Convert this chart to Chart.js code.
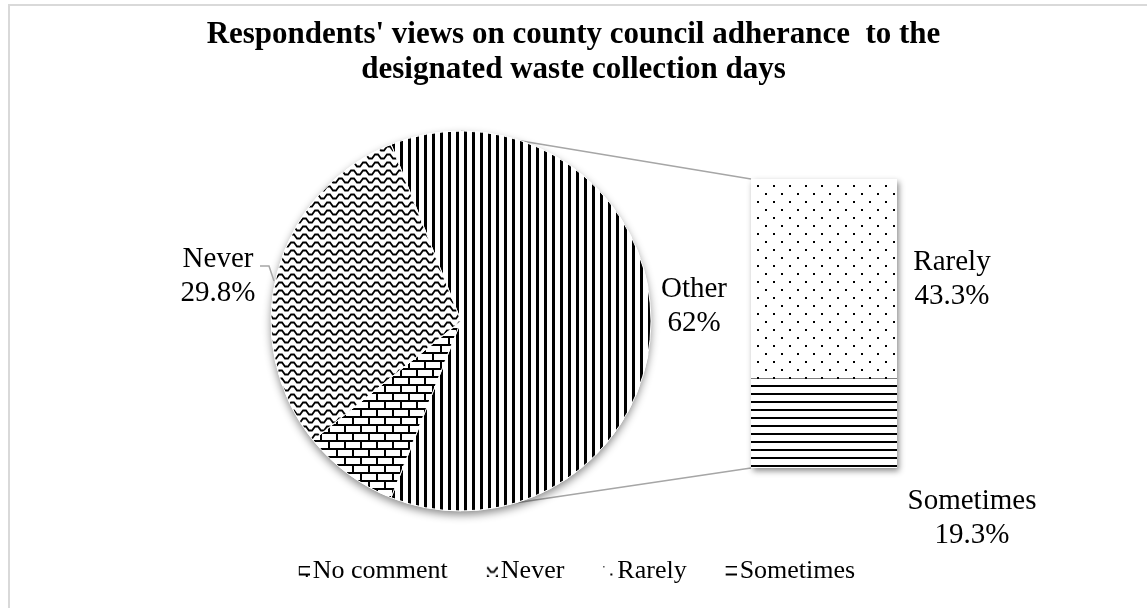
<!DOCTYPE html>
<html><head><meta charset="utf-8">
<script src="https://cdn.jsdelivr.net/npm/chart.js@4.4.1/dist/chart.umd.min.js"></script>
<style>
html,body{margin:0;padding:0;background:#fff;}
#wrap{position:relative;width:1147px;height:608px;overflow:hidden;background:#fff;}
#main{position:absolute;left:0;top:0;}
#bar{position:absolute;left:741px;top:169px;}
</style></head><body>
<div id="wrap"><canvas id="main" width="1147" height="608"></canvas><canvas id="bar" width="330" height="390"></canvas></div>
<script>
// ---- data ----
const titleLines = ["Respondents' views on county council adherance  to the", "designated waste collection days"];
const pieLabels = ["Other", "No comment", "Never"];
const pieValues = [62, 8.2, 29.8];
const pieValueText = ["62%", "", "29.8%"];
const barLabels = ["Sometimes", "Rarely"];
const barValues = [19.3, 43.3];
const barValueText = ["19.3%", "43.3%"];
const legendLabels = ["No comment", "Never", "Rarely", "Sometimes"];

// ---- patterns ----
function tile(w, h, draw) {
  const c = document.createElement('canvas'); c.width = w; c.height = h;
  const x = c.getContext('2d'); x.fillStyle = '#fff'; x.fillRect(0, 0, w, h);
  x.fillStyle = '#000'; x.strokeStyle = '#000'; draw(x); return c;
}
const tiles = {
  vertical: tile(8, 8, x => x.fillRect(0, 0, 3, 8)),
  horizontal: tile(8, 8, x => x.fillRect(0, 0, 8, 2)),
  dots: tile(16, 16, x => { x.fillRect(0, 0, 2, 2); x.fillRect(8, 8, 2, 2); }),
  brick: tile(16, 16, x => { x.fillRect(0, 0, 16, 2); x.fillRect(0, 8, 16, 2); x.fillRect(0, 0, 2, 8); x.fillRect(8, 8, 2, 8); }),
  wave: tile(12, 8, x => { x.lineWidth = 1.8; x.beginPath(); x.moveTo(-3, 6.5); x.lineTo(0, 6.5); x.lineTo(3, 2.5); x.lineTo(6, 2.5); x.lineTo(9, 6.5); x.lineTo(15, 6.5); x.stroke(); })
};
function pat(ctx, key) { return ctx.createPattern(tiles[key], 'repeat'); }
function swatch(key) {
  const c = document.createElement('canvas'); c.width = 28; c.height = 11;
  const x = c.getContext('2d'); x.fillStyle = x.createPattern(tiles[key], 'repeat'); x.fillRect(17, 0, 11, 11);
  return c;
}
const legendKeys = ['brick', 'wave', 'dots', 'horizontal'];

const serif = '"Liberation Serif", "Times New Roman", serif';
function drawLines(ctx, lines, cx, cy, size, lh) {
  ctx.save();
  ctx.font = size + 'px ' + serif; ctx.fillStyle = '#000';
  ctx.textAlign = 'center'; ctx.textBaseline = 'middle';
  lines.forEach((t, i) => ctx.fillText(t, cx, cy + (i - (lines.length - 1) / 2) * lh));
  ctx.restore();
}

// ---- bar (pie-of-bar secondary) ----
const barCanvas = document.getElementById('bar');
const bctx = barCanvas.getContext('2d');
const barTotal = barValues.reduce((a, b) => a + b, 0);
const barKeys = ['horizontal', 'dots'];
const barShadow = {
  id: 'barShadow',
  beforeDatasetsDraw(chart) {
    const a = chart.chartArea, c = chart.ctx;
    c.save(); c.shadowColor = 'rgba(0,0,0,0.45)'; c.shadowBlur = 6; c.shadowOffsetX = 2; c.shadowOffsetY = 3;
    c.fillStyle = '#fff'; c.fillRect(a.left, a.top, a.right - a.left, a.bottom - a.top); c.restore();
  },
  afterDatasetsDraw(chart) {
    const c = chart.ctx;
    const rare = chart.getDatasetMeta(1).data[0];
    const some = chart.getDatasetMeta(0).data[0];
    const right = rare.x + rare.width / 2;
    drawLines(c, [barLabels[1], barValueText[1]], right + 55, (rare.y + rare.base) / 2, 29, 34);
    drawLines(c, [barLabels[0], barValueText[0]], right + 75, some.base + 50, 29, 34);
  }
};
const barChart = new Chart(barCanvas, {
  type: 'bar',
  data: {
    labels: [''],
    datasets: barLabels.map((l, i) => ({
      label: l, data: [barValues[i]], backgroundColor: pat(bctx, barKeys[i]),
      borderWidth: 0, barPercentage: 1, categoryPercentage: 1
    }))
  },
  options: {
    responsive: false, animation: false, devicePixelRatio: 1,
    layout: { padding: { left: 10, top: 10, right: 174, bottom: 91 } },
    scales: {
      x: { display: false, stacked: true },
      y: { display: false, stacked: true, min: 0, max: barTotal }
    },
    plugins: { legend: { display: false }, title: { display: false }, tooltip: { enabled: false } }
  },
  plugins: [barShadow]
});

// ---- main pie ----
const mainCanvas = document.getElementById('main');
const mctx = mainCanvas.getContext('2d');
const pieTotal = pieValues.reduce((a, b) => a + b, 0);
const PIE = { cx: 461, cy: 321, r: 190 };
const BAR_OFF = { x: 741, y: 169 };

const frame = {
  id: 'frame',
  beforeDraw(chart) {
    const c = chart.ctx; c.save(); c.strokeStyle = '#d9d9d9'; c.lineWidth = 2;
    c.strokeRect(9, 5, 2000, 2000); c.restore();
  }
};
const placePie = {
  id: 'placePie',
  afterLayout(chart) {
    Object.assign(chart.chartArea, {
      left: PIE.cx - PIE.r, right: PIE.cx + PIE.r, top: PIE.cy - PIE.r, bottom: PIE.cy + PIE.r,
      width: 2 * PIE.r, height: 2 * PIE.r
    });
  }
};
const pieDecor = {
  id: 'pieDecor',
  beforeDatasetsDraw(chart) {
    const c = chart.ctx;
    const arc = chart.getDatasetMeta(0).data[0];
    const cx = arc.x, cy = arc.y, r = arc.outerRadius;
    const rare = barChart.getDatasetMeta(1).data[0];
    const some = barChart.getDatasetMeta(0).data[0];
    const bl = rare.x - rare.width / 2 + BAR_OFF.x;
    c.save(); c.strokeStyle = '#a6a6a6'; c.lineWidth = 1.5;
    c.beginPath(); c.moveTo(cx, cy - r); c.lineTo(bl, rare.y + BAR_OFF.y);
    c.moveTo(cx, cy + r); c.lineTo(bl, some.base + BAR_OFF.y); c.stroke(); c.restore();
    c.save(); c.shadowColor = 'rgba(0,0,0,0.45)'; c.shadowBlur = 8; c.shadowOffsetY = 4;
    c.fillStyle = '#fff'; c.beginPath(); c.arc(cx, cy, r, 0, Math.PI * 2); c.fill(); c.restore();
  },
  afterDatasetsDraw(chart) {
    const c = chart.ctx;
    const arc = chart.getDatasetMeta(0).data[0];
    const cx = arc.x, cy = arc.y;
    drawLines(c, [pieLabels[2], pieValueText[2]], cx - 243, cy - 45, 29, 34);
    c.save(); c.strokeStyle = '#a6a6a6'; c.lineWidth = 1.5;
    c.beginPath(); c.moveTo(cx - 201, cy - 55); c.lineTo(cx - 192, cy - 55); c.lineTo(cx - 187, cy - 40); c.stroke(); c.restore();
    drawLines(c, [pieLabels[0], pieValueText[0]], cx + 233, cy - 15, 29, 34);
  }
};

const mainChart = new Chart(mainCanvas, {
  type: 'pie',
  data: {
    labels: pieLabels,
    datasets: [{
      data: pieValues,
      backgroundColor: [pat(mctx, 'vertical'), pat(mctx, 'brick'), pat(mctx, 'wave')],
      borderColor: '#fff', borderWidth: 1, radius: PIE.r, clip: false
    }]
  },
  options: {
    responsive: false, animation: false, devicePixelRatio: 1,
    rotation: 90 - pieValues[0] / pieTotal * 180,
    layout: { padding: { top: 0, bottom: 14 } },
    plugins: {
      title: {
        display: true, text: titleLines, color: '#000',
        font: { family: serif, size: 31, weight: 'bold', lineHeight: 1.15 },
        padding: { top: 17, bottom: 10 }
      },
      legend: {
        position: 'bottom',
        labels: {
          usePointStyle: true, boxWidth: 8, boxHeight: 11, padding: 32, color: '#000',
          font: { family: serif, size: 26 },
          generateLabels: () => legendLabels.map((t, i) => ({
            text: t, pointStyle: swatch(legendKeys[i]), fillStyle: 'transparent',
            strokeStyle: 'transparent', lineWidth: 0, hidden: false, index: i, fontColor: '#000'
          }))
        }
      },
      tooltip: { enabled: false }
    }
  },
  plugins: [frame, placePie, pieDecor]
});
</script>
</body></html>
